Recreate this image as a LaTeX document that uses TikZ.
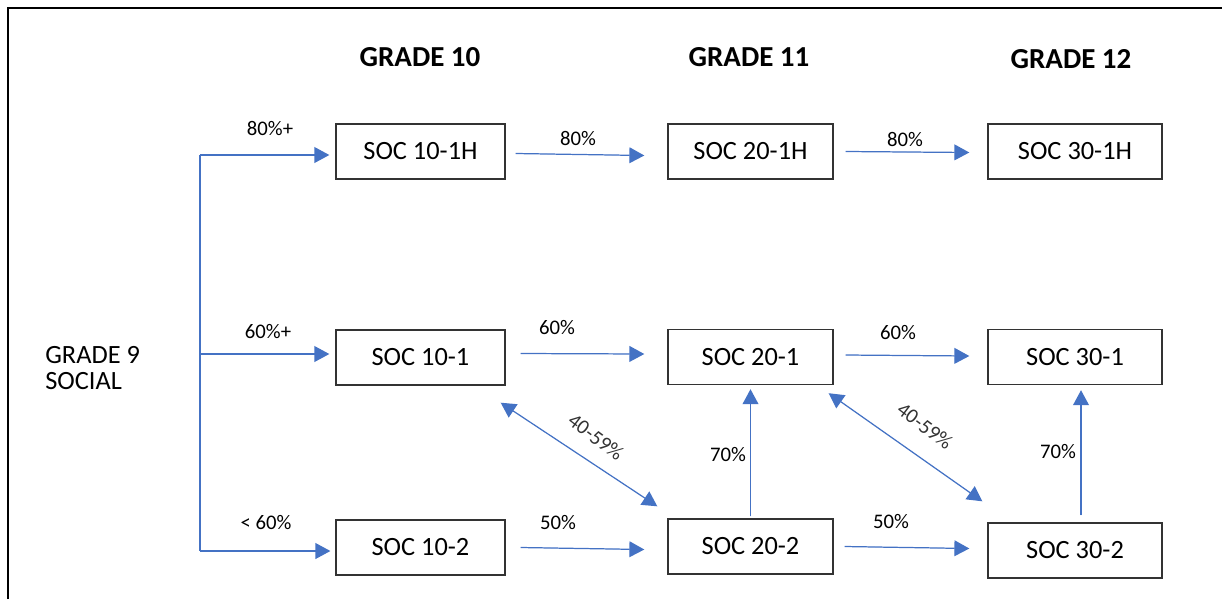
\documentclass[tikz,border=0pt]{standalone}
\usepackage{fontspec}
\setmainfont{Carlito}
\usetikzlibrary{arrows.meta}
\definecolor{linkblue}{RGB}{68,114,196}

\begin{document}
\begin{tikzpicture}[x=0.02cm,y=-0.02cm,
        >={Triangle[length=8.5pt,width=9pt]},
        course/.style={draw=black!80,line width=0.8pt,minimum height=1.1cm,inner sep=0pt,font=\fontsize{15}{18}\selectfont},
        grade/.style={font=\fontsize{16.5}{20}\selectfont\bfseries},
        pct/.style={font=\fontsize{11.8}{14}\selectfont},
        link/.style={->,draw=linkblue,fill=linkblue,line width=0.7pt},
        twoway/.style={link,<->}]
        \useasboundingbox (0,0) rectangle (1222,599);
        % \draw[help lines,step=50] (0,0) grid (1222,599);

        \draw[line width=1.1pt] (8,599) -- (8,8) -- (1222,8);

        \node[grade] (g10) at (420,57) {GRADE 10};
        \node[grade] (g11) at (749,57) {GRADE 11};
        \node[grade] (g12) at (1071,59) {GRADE 12};
        \node[anchor=west,align=left,inner sep=0pt,font=\fontsize{15}{14.7}\selectfont] (g9) at (45,368) {GRADE 9\\SOCIAL};

        \node[course,minimum width=3.38cm] (s101h) at (420.5,151.5) {SOC 10-1H};
        \node[course,minimum width=3.30cm] (s201h) at (750.5,151.5) {SOC 20-1H};
        \node[course,minimum width=3.48cm] (s301h) at (1075,151.5) {SOC 30-1H};
        \node[course,minimum width=3.38cm] (s101) at (420.5,357.5) {SOC 10-1};
        \node[course,minimum width=3.30cm] (s201) at (750.5,357) {SOC 20-1};
        \node[course,minimum width=3.48cm] (s301) at (1075,357) {SOC 30-1};
        \node[course,minimum width=3.38cm] (s102) at (420.5,547.5) {SOC 10-2};
        \node[course,minimum width=3.30cm] (s202) at (750.5,546.5) {SOC 20-2};
        \node[course,minimum width=3.48cm] (s302) at (1075,550.5) {SOC 30-2};

        % fork from grade 9
        \coordinate (ftop) at (200,155);
        \coordinate (fmid) at (200,354);
        \coordinate (fbot) at (200,551);
        \draw[link,-] (ftop) -- (fbot);
        \draw[link,shorten >=3.4pt] (ftop) -- (s101h.west |- ftop);
        \draw[link,shorten >=3.4pt] (fmid) -- (s101.west |- fmid);
        \draw[link,shorten >=2.8pt] (fbot) -- (s102.west |- fbot);
        \node[pct] (l80p) at (270,128) {80\%+};
        \node[pct] (l60p) at (268,332) {60\%+};
        \node[pct] (l60m) at (266,523) {< 60\%};

        % across the grades
        \draw[link] ([shift={(10,2)}]s101h.east) -- ([shift={(-23,4)}]s201h.west);
        \draw[link] ([shift={(12,0)}]s201h.east) -- ([shift={(-18,1)}]s301h.west);
        \draw[link] ([shift={(15,-4)}]s101.east) -- ([shift={(-23,-3)}]s201.west);
        \draw[link] ([shift={(12,-2)}]s201.east) -- ([shift={(-18,-1)}]s301.west);
        \draw[link] ([shift={(15,0)}]s102.east) -- ([shift={(-23,3)}]s202.west);
        \draw[link] ([shift={(11,0)}]s202.east) -- ([shift={(-18,-2)}]s302.west);
        \node[pct] (l80a) at (578,138) {80\%};
        \node[pct] (l80b) at (905,139) {80\%};
        \node[pct] (l60a) at (557,328) {60\%};
        \node[pct] (l60b) at (898,333) {60\%};
        \node[pct] (l50a) at (558,523) {50\%};
        \node[pct] (l50b) at (891,522) {50\%};

        % up and down
        \draw[link] ([shift={(0,-2)}]s202.north) -- ([shift={(0,4)}]s201.south);
        \draw[link] ([shift={(6,-7)}]s302.north) -- ([shift={(6,5)}]s301.south);
        \node[pct] (l70a) at (728,455) {70\%};
        \node[pct] (l70b) at (1058,452) {70\%};

        \draw[twoway] ([shift={(-5,17)}]s101.south east) -- ([shift={(-10,-12)}]s202.north west);
        \draw[twoway] ([shift={(-5,8)}]s201.south east) -- ([shift={(-5,-21)}]s302.north west);
        \node[pct,rotate=-37,text=black!80] (l4059a) at (596,437) {40-59\%};
        \node[pct,rotate=-37,text=black!80] (l4059b) at (925,426) {40-59\%};
\end{tikzpicture}
\end{document}
